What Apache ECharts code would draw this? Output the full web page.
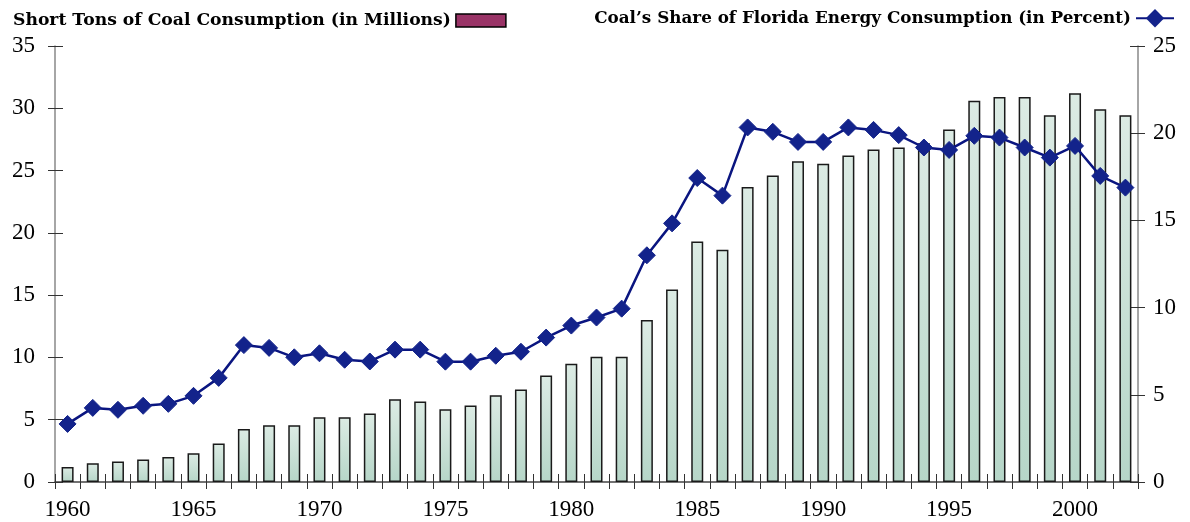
<!DOCTYPE html>
<html>
<head>
<meta charset="utf-8">
<script src="https://cdn.jsdelivr.net/npm/echarts@6/dist/echarts.min.js"></script>
<style>
  html, body { margin: 0; padding: 0; background: #fff; }
  #main { width: 1190px; height: 522px; }
</style>
</head>
<body>
<div id="main"></div>
<script>
const years = []
for (let y = 1960; y <= 2002; y++) years.push(String(y))

// short tons of coal consumption, millions
const coalTons = [
  1.2, 1.5, 1.65, 1.8, 2.0, 2.3, 3.1, 4.25, 4.55, 4.55,
  5.2, 5.2, 5.5, 6.65, 6.46, 5.85, 6.14, 6.97, 7.43, 8.55,
  9.5, 10.05, 10.05, 13.0, 15.45, 19.3, 18.65, 23.68, 24.6, 25.75,
  25.55, 26.2, 26.7, 26.85, 27.2, 28.3, 30.6, 30.9, 30.9, 29.45,
  31.2, 29.93, 29.45
]

// coal share of florida energy consumption, percent
const coalShare = [
  3.33, 4.25, 4.14, 4.37, 4.48, 4.94, 5.97, 7.85, 7.69, 7.15,
  7.38, 7.01, 6.91, 7.59, 7.59, 6.9, 6.9, 7.24, 7.47, 8.28,
  8.97, 9.43, 9.94, 13.0, 14.83, 17.43, 16.42, 20.33, 20.08, 19.5,
  19.5, 20.33, 20.19, 19.89, 19.18, 19.04, 19.85, 19.75, 19.18, 18.6,
  19.27, 17.55, 16.88
]

const barName = 'Short Tons of Coal Consumption (in Millions)'
const lineName = 'Coal\u2019s Share of Florida Energy Consumption (in Percent)'

const serif = 'Liberation Serif'
const boldSerif = 'DejaVu Serif'
const navy = '#13238b'

const tickStyle = { color: '#333', width: 1 }
const tickLabel = { color: '#000', fontSize: 23, fontFamily: serif, fontWeight: 'normal' }

// hidden copies of the axes only draw the inner half of the crossing ticks
function innerTicks(base) {
  return Object.assign({
    axisLine: { show: false },
    axisLabel: { show: false },
    splitLine: { show: false },
    axisTick: { show: true, inside: true, length: 8, lineStyle: tickStyle }
  }, base)
}

const chart = echarts.init(document.getElementById('main'))

chart.setOption({
  animation: false,
  legend: [
    {
      left: 8,
      top: 7,
      align: 'right',
      icon: 'rect',
      itemWidth: 50,
      itemHeight: 13,
      itemGap: 8,
      textStyle: { fontFamily: boldSerif, fontWeight: 'bold', fontSize: 17.2, color: '#000' },
      data: [{ name: barName, itemStyle: { color: '#993366', borderColor: '#000', borderWidth: 1.5 } }]
    },
    {
      right: 10,
      top: 4,
      align: 'right',
      itemWidth: 38,
      itemHeight: 23,
      textStyle: { fontFamily: boldSerif, fontWeight: 'bold', fontSize: 16.8, color: '#000' },
      data: [lineName]
    }
  ],
  grid: { left: 55, right: 52, top: 46, bottom: 40, containLabel: false },
  xAxis: [
    {
      type: 'category',
      data: years,
      boundaryGap: true,
      axisLine: { lineStyle: { color: '#444', width: 1.5 } },
      axisTick: { show: true, interval: 0, length: 7, lineStyle: tickStyle },
      axisLabel: Object.assign({ interval: 4, margin: 16 }, tickLabel)
    },
    innerTicks({
      type: 'category',
      data: years,
      boundaryGap: true,
      position: 'bottom',
      axisTick: { show: true, inside: true, interval: 0, length: 8, lineStyle: tickStyle }
    })
  ],
  yAxis: [
    {
      type: 'value',
      min: 0,
      max: 35,
      interval: 5,
      splitLine: { show: false },
      axisLine: { show: true, lineStyle: { color: '#888', width: 1.5 } },
      axisTick: { show: true, length: 7, lineStyle: tickStyle },
      axisLabel: Object.assign({ margin: 20 }, tickLabel)
    },
    {
      type: 'value',
      min: 0,
      max: 25,
      interval: 5,
      position: 'right',
      splitLine: { show: false },
      axisLine: { show: true, lineStyle: { color: '#888', width: 1.5 } },
      axisTick: { show: true, length: 7, lineStyle: tickStyle },
      axisLabel: Object.assign({ margin: 15 }, tickLabel)
    },
    innerTicks({ type: 'value', min: 0, max: 35, interval: 5, position: 'left' }),
    innerTicks({ type: 'value', min: 0, max: 25, interval: 5, position: 'right' })
  ],
  series: [
    {
      name: barName,
      type: 'bar',
      yAxisIndex: 0,
      data: coalTons,
      barWidth: 12,
      itemStyle: {
        color: new echarts.graphic.LinearGradient(0, 0, 0, 1, [
          { offset: 0, color: '#dcebe4' },
          { offset: 1, color: '#b6d6c8' }
        ]),
        borderColor: '#1a1a1a',
        borderWidth: 1.5
      }
    },
    {
      name: lineName,
      type: 'line',
      yAxisIndex: 1,
      data: coalShare,
      symbol: 'diamond',
      symbolSize: 17,
      showAllSymbol: true,
      z: 5,
      lineStyle: { color: '#0a1580', width: 2.5 },
      itemStyle: { color: navy, borderColor: navy }
    }
  ]
})
</script>
</body>
</html>
